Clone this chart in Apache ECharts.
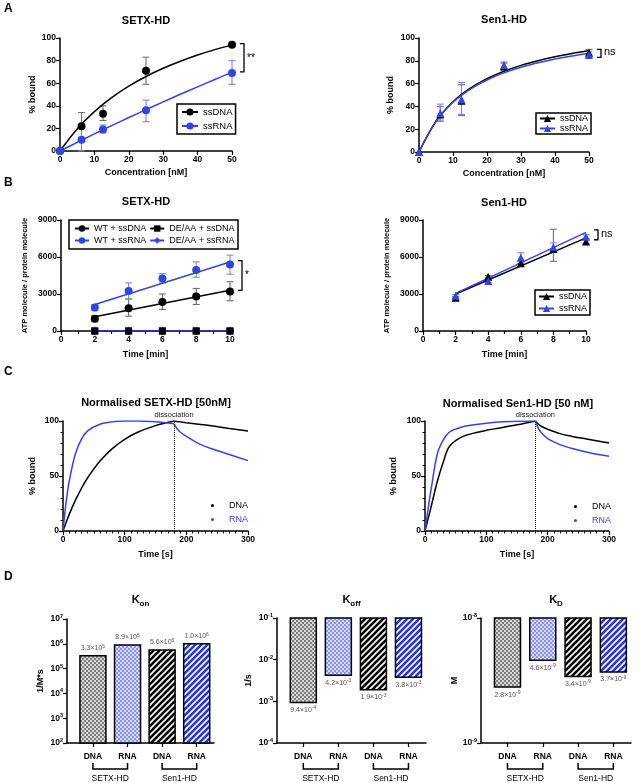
<!DOCTYPE html>
<html>
<head>
<meta charset="utf-8">
<script src="https://cdn.jsdelivr.net/npm/echarts@6/dist/echarts.min.js"></script>
<style>
html, body { margin: 0; padding: 0; background: #fff; }
#main { width: 643px; height: 783px; }
</style>
</head>
<body>
<div id="main"></div>
<script>
// ---- A: % bound vs concentration ----
var concA = [0, 6.25, 12.5, 25, 50];
var setxDnaA = [0, 22, 33, 71, 94];
var setxRnaA = [0, 10, 19, 36, 69];
var setxDnaAErr = [null, [10, 34], [27, 40], [59, 83], [93, 95]];
var setxRnaAErr = [null, [0, 20], [16, 23], [26, 45], [59, 80]];
var sen1DnaA = [0, 33, 45, 75, 87];
var sen1RnaA = [0, 34, 46, 76, 85];
var sen1DnaAErr = [null, [27, 40], [32, 59], [72, 78], [85, 90]];
var sen1RnaAErr = [null, [28, 42], [33, 61], [73, 79], [83, 88]];
// fitted curves
var fitConcA = [0, 5, 10, 15, 20, 25, 30, 35, 40, 45, 50];
var setxDnaFitA = [0, 19.5, 34.8, 47.2, 57.4, 65.9, 73.2, 79.4, 84.9, 89.7, 93.9];
var setxRnaFitA = [0, 7.6, 15.1, 22.4, 29.6, 36.6, 43.5, 50.2, 56.8, 63.3, 69.6];
var sen1DnaFitA = [0, 27.0, 44.1, 55.8, 64.3, 70.8, 76.0, 80.1, 83.5, 86.4, 89.0];
var sen1RnaFitA = [0, 26.8, 43.6, 55.0, 63.2, 69.4, 74.3, 78.2, 81.5, 84.3, 86.7];
var sigA1 = [95, 70];
var sigA2 = [90, 83];

// ---- B: ATP hydrolysis ----
var timeB = [2, 4, 6, 8, 10];
var wtDnaB = [1000, 1850, 2350, 2800, 3200];
var wtRnaB = [1900, 3250, 4250, 4950, 5400];
var wtDnaBErr = [[750, 1250], [1200, 2600], [1750, 3000], [2150, 3450], [2450, 4000]];
var wtRnaBErr = [[1650, 2150], [2600, 3900], [3900, 4650], [4350, 5600], [4600, 6150]];
var deDnaB = [0, 0, 0, 0, 0];
var deRnaB = [0, 0, 0, 0, 0];
var fitTimeB = [2, 10];
var wtDnaFitB = [1150, 3300];
var wtRnaFitB = [2150, 5600];
var sen1DnaB = [2700, 4400, 5500, 6650, 7250];
var sen1RnaB = [2850, 4050, 5950, 6800, 7650];
var sen1DnaBErr = [[2600, 2800], [4300, 4500], [5400, 5600], [5650, 8250], [7050, 7400]];
var sen1RnaBErr = [[2750, 2950], [3950, 4150], [5450, 6350], [6450, 7150], [7500, 7800]];
var sen1DnaFitB = [3000, 7550];
var sen1RnaFitB = [3050, 8000];
var sigB1 = [5700, 3300];
var sigB2 = [8200, 7400];

// ---- C: normalised binding kinetics ----
var tOn = [0, 5, 10, 20, 30, 40, 60, 80, 100, 120, 150, 180];
var tOff = [180, 185, 190, 200, 220, 240, 270, 300];
var setxDnaOn = [0, 7.7, 14.9, 27.8, 38.8, 48.4, 63.6, 74.9, 83.3, 89.5, 95.8, 100];
var setxDnaOff = [100, 99.6, 99.2, 98.4, 97.0, 95.7, 93.2, 91.0];
var setxRnaOn = [0, 26, 45.2, 70, 83.5, 91, 97, 99.2, 99.9, 100, 99.3, 97.5];
var setxRnaOff = [97.5, 93, 90, 86, 79.5, 75, 69.5, 64];
var sen1DnaOn = [0, 11, 22, 45, 63, 77, 85.5, 89, 91.5, 93.5, 96.5, 100];
var sen1DnaOff = [100, 97, 95, 92.5, 88.5, 86, 83, 80];
var sen1RnaOn = [0, 20, 38, 70, 83, 90, 94.5, 96.5, 98, 99, 99.7, 100];
var sen1RnaOff = [100, 93, 89, 84, 78.5, 75, 71, 68];
var dissocTime = 180;

// ---- D: rate constants ----
var dCats = ['DNA', 'RNA', 'DNA', 'RNA'];
var dGroups = ['SETX-HD', 'Sen1-HD'];
var konVals = [3.3e5, 8.9e5, 5.6e5, 1.0e6];
var koffVals = [9.4e-4, 4.2e-3, 1.9e-3, 3.8e-3];
var kdVals = [2.8e-9, 4.6e-9, 3.4e-9, 3.7e-9];

var F = '"Liberation Sans", Arial, sans-serif';
var BLACK = '#000000', BLUE = '#3344e6', EBLK = '#6e6e6e', EBLU = '#7a85ea';

var chart = echarts.init(document.getElementById('main'));

// bar fill patterns
function pat(size, draw) {
	var c = document.createElement('canvas');
	c.width = c.height = size;
	draw(c.getContext('2d'), size);
	return { image: c, repeat: 'repeat' };
}
function checker(dark, light) {
	return pat(4, function(g) {
		g.fillStyle = light; g.fillRect(0, 0, 4, 4);
		g.fillStyle = dark; g.fillRect(0, 0, 2, 2); g.fillRect(2, 2, 2, 2);
	});
}
function stripes(col) {
	return pat(6, function(g, s) {
		g.fillStyle = '#fff'; g.fillRect(0, 0, s, s);
		g.strokeStyle = col; g.lineWidth = 2.6;
		g.beginPath();
		g.moveTo(0, s); g.lineTo(s, 0);
		g.moveTo(-2, 2); g.lineTo(2, -2);
		g.moveTo(s - 2, s + 2); g.lineTo(s + 2, s - 2);
		g.stroke();
	});
}
var patterns = [checker('#7c7c7c', '#dadada'), checker('#8c91ef', '#d7d9fb'), stripes('#000'), stripes('#2536e0')];

function ax(gi, opts) {
	var a = {
		gridIndex: gi, type: 'value', nameLocation: 'middle',
		nameTextStyle: { color: '#000', fontSize: 9, fontWeight: 'bold', fontFamily: F },
		axisLine: { show: true, onZero: false, lineStyle: { color: '#000', width: 1.5 } },
		axisTick: { show: true, length: 4, lineStyle: { color: '#000', width: 1.2 } },
		minorTick: { show: false },
		axisLabel: { color: '#000', fontSize: 8.5, fontWeight: 'bold', fontFamily: F, margin: 4,
			formatter: function(v) { return String(v); } },
		splitLine: { show: false },
		minorSplitLine: { show: false }
	};
	return echarts.util.merge(a, opts, true);
}
var RICH_POW = {
	b: { fontSize: 8.5, fontWeight: 'bold', color: '#000', fontFamily: F, lineHeight: 11 },
	s: { fontSize: 5.5, fontWeight: 'bold', color: '#000', fontFamily: F, verticalAlign: 'top', lineHeight: 6 }
};
function logAx(gi, min, max, name, gap) {
	return ax(gi, {
		type: 'log', logBase: 10, min: min, max: max, name: name, nameGap: gap,
		axisLabel: {
			formatter: function(v) { return '{b|10}{s|' + Math.round(Math.log10(v)) + '}'; },
			rich: RICH_POW
		}
	});
}
var dPos = dCats.map(function(c, i) { return i + 0.75; });
function dAx(gi) {
	return ax(gi, {
		min: 0, max: 4.25,
		axisTick: { customValues: dPos },
		axisLabel: { customValues: dPos, margin: 9, formatter: function(v) { return dCats[Math.round(v - 0.75)]; } }
	});
}
var minorB = { show: true, splitNumber: 2, length: 3, lineStyle: { color: '#000', width: 1.2 } };
var minorC = { show: true, splitNumber: 10, length: 2.5, lineStyle: { color: '#000', width: 1 } };
var minorCy = { show: true, splitNumber: 5, length: 2.5, lineStyle: { color: '#000', width: 1 } };

var xAxes = [
	ax(0, { min: 0, max: 50, interval: 10, name: 'Concentration [nM]', nameGap: 17 }),
	ax(1, { min: 0, max: 50, interval: 10, name: 'Concentration [nM]', nameGap: 17 }),
	ax(2, { min: 0, max: 10, interval: 2, name: 'Time [min]', nameGap: 19, minorTick: minorB }),
	ax(3, { min: 0, max: 10, interval: 2, name: 'Time [min]', nameGap: 19, minorTick: minorB }),
	ax(4, { min: 0, max: 300, interval: 100, name: 'Time [s]', nameGap: 19, minorTick: minorC }),
	ax(5, { min: 0, max: 300, interval: 100, name: 'Time [s]', nameGap: 19, minorTick: minorC }),
	dAx(6), dAx(7), dAx(8)
];
var atpName = { fontSize: 7.5 };
var yAxes = [
	ax(0, { min: 0, max: 100, interval: 20, name: '% bound', nameGap: 23 }),
	ax(1, { min: 0, max: 100, interval: 20, name: '% bound', nameGap: 24 }),
	ax(2, { min: 0, max: 9000, interval: 3000, name: 'ATP molecule / protein molecule', nameGap: 32, nameTextStyle: atpName }),
	ax(3, { min: 0, max: 9000, interval: 3000, name: 'ATP molecule / protein molecule', nameGap: 32, nameTextStyle: atpName }),
	ax(4, { min: 0, max: 100, interval: 50, name: '% bound', nameGap: 26, minorTick: minorCy }),
	ax(5, { min: 0, max: 100, interval: 50, name: '% bound', nameGap: 27, minorTick: minorCy }),
	logAx(6, 1e2, 1e7, '1/M*s', 22),
	logAx(7, 1e-4, 1e-1, '1/s', 24),
	logAx(8, 1e-9, 1e-8, 'M', 17)
];

var grids = [
	{ left: 60, top: 38, width: 172, height: 113 },
	{ left: 419, top: 38, width: 170, height: 114 },
	{ left: 61, top: 220, width: 169, height: 111 },
	{ left: 423, top: 220, width: 163, height: 111 },
	{ left: 63, top: 421, width: 185, height: 110 },
	{ left: 425, top: 421, width: 184, height: 110 },
	{ left: 67, top: 619, width: 147, height: 124 },
	{ left: 277, top: 618, width: 149, height: 125 },
	{ left: 481, top: 618, width: 150, height: 125 }
];

function pairs(xs, ys) { return xs.map(function(x, i) { return [x, ys[i]]; }); }

function errs(gi, xs, e, color) {
	var data = [];
	xs.forEach(function(x, i) { if (e[i]) data.push([x, e[i][0], e[i][1]]); });
	return {
		type: 'custom', xAxisIndex: gi, yAxisIndex: gi, z: 1, silent: true,
		encode: { x: 0, y: [1, 2] }, data: data,
		renderItem: function(params, api) {
			var lo = api.coord([api.value(0), api.value(1)]);
			var hi = api.coord([api.value(0), api.value(2)]);
			var w = 3.5, st = { stroke: color, lineWidth: 1.1 };
			return { type: 'group', children: [
				{ type: 'line', shape: { x1: lo[0], y1: lo[1], x2: hi[0], y2: hi[1] }, style: st },
				{ type: 'line', shape: { x1: hi[0] - w, y1: hi[1], x2: hi[0] + w, y2: hi[1] }, style: st },
				{ type: 'line', shape: { x1: lo[0] - w, y1: lo[1], x2: lo[0] + w, y2: lo[1] }, style: st }
			] };
		}
	};
}
function pts(gi, xs, ys, symbol, size, color) {
	return {
		type: 'scatter', xAxisIndex: gi, yAxisIndex: gi, z: 4, silent: true,
		symbol: symbol, symbolSize: size, itemStyle: { color: color, opacity: 1 },
		data: pairs(xs, ys)
	};
}
function fit(gi, name, xs, ys, color, symbol) {
	return {
		type: 'line', name: name, xAxisIndex: gi, yAxisIndex: gi, z: 3, silent: true,
		smooth: 0.35, showSymbol: false, symbol: symbol, symbolSize: 8,
		lineStyle: { color: color, width: 1.5 }, itemStyle: { color: color },
		data: pairs(xs, ys)
	};
}
function dissoc() {
	return {
		silent: true, symbol: 'none', data: [{ xAxis: dissocTime }],
		lineStyle: { type: 'dotted', color: '#000', width: 1 },
		label: { show: true, position: 'end', formatter: 'dissociation', fontSize: 7.5, color: '#222', fontFamily: F, distance: 2 }
	};
}
function barSeries(gi, vals, yMin, yMax, hang) {
	return {
		type: 'custom', xAxisIndex: gi, yAxisIndex: gi, silent: true,
		encode: { x: 0, y: 1 },
		data: vals.map(function(v, i) { return [i + 0.75, v, i]; }),
		renderItem: function(params, api) {
			var x = api.value(0), v = api.value(1), i = api.value(2);
			var p = api.coord([x, v]);
			var b = api.coord([x, hang ? yMax : yMin]);
			var e = Math.floor(Math.log10(v) + 1e-9);
			var m = (v / Math.pow(10, e)).toFixed(1);
			return { type: 'group', children: [
				{ type: 'rect', shape: { x: p[0] - 13, y: Math.min(p[1], b[1]), width: 26, height: Math.abs(b[1] - p[1]) },
					style: { fill: patterns[i], stroke: '#000', lineWidth: 1.5 } },
				{ type: 'text', x: p[0], y: hang ? p[1] + 3 : p[1] - 3,
					style: { text: '{m|' + m + '×10}{e|' + e + '}', align: 'center', verticalAlign: hang ? 'top' : 'bottom',
						rich: { m: { fontSize: 7, fill: '#555', fontFamily: F, lineHeight: 9 },
							e: { fontSize: 5, fill: '#555', fontFamily: F, verticalAlign: 'top', lineHeight: 5 } } } }
			] };
		}
	};
}

var series = [
	// A SETX
	errs(0, concA, setxDnaAErr, EBLK), errs(0, concA, setxRnaAErr, EBLU),
	fit(0, 'A1 ssDNA', fitConcA, setxDnaFitA, BLACK, 'circle'),
	fit(0, 'A1 ssRNA', fitConcA, setxRnaFitA, BLUE, 'circle'),
	pts(0, concA, setxDnaA, 'circle', 8, BLACK), pts(0, concA, setxRnaA, 'circle', 8, BLUE),
	// A Sen1
	errs(1, concA, sen1DnaAErr, EBLK), errs(1, concA, sen1RnaAErr, EBLU),
	fit(1, 'A2 ssDNA', fitConcA, sen1DnaFitA, BLACK, 'triangle'),
	fit(1, 'A2 ssRNA', fitConcA, sen1RnaFitA, BLUE, 'triangle'),
	pts(1, concA, sen1DnaA, 'triangle', 8, BLACK), pts(1, concA, sen1RnaA, 'triangle', 8, BLUE),
	// B SETX
	errs(2, timeB, wtDnaBErr, EBLK), errs(2, timeB, wtRnaBErr, EBLU),
	fit(2, 'WT + ssDNA', fitTimeB, wtDnaFitB, BLACK, 'circle'),
	fit(2, 'WT + ssRNA', fitTimeB, wtRnaFitB, BLUE, 'circle'),
	pts(2, timeB, wtDnaB, 'circle', 8, BLACK), pts(2, timeB, wtRnaB, 'circle', 8, BLUE),
	{ type: 'line', name: 'DE/AA + ssDNA', xAxisIndex: 2, yAxisIndex: 2, z: 2, silent: true, symbol: 'rect', symbolSize: 7,
		lineStyle: { color: BLACK, width: 1.5 }, itemStyle: { color: BLACK }, data: pairs(timeB, deDnaB) },
	{ type: 'line', name: 'DE/AA + ssRNA', xAxisIndex: 2, yAxisIndex: 2, z: 3, silent: true, symbol: 'diamond', symbolSize: 9,
		lineStyle: { color: BLUE, width: 1.5 }, itemStyle: { color: BLUE }, data: pairs(timeB, deRnaB) },
	pts(2, timeB, deDnaB, 'rect', 7, BLACK),
	// B Sen1
	errs(3, timeB, sen1DnaBErr, EBLK), errs(3, timeB, sen1RnaBErr, EBLU),
	fit(3, 'B2 ssDNA', fitTimeB, sen1DnaFitB, BLACK, 'triangle'),
	fit(3, 'B2 ssRNA', fitTimeB, sen1RnaFitB, BLUE, 'triangle'),
	pts(3, timeB, sen1DnaB, 'triangle', 8, BLACK), pts(3, timeB, sen1RnaB, 'triangle', 8, BLUE),
	// C
	echarts.util.merge(fit(4, 'C1 DNA', tOn, setxDnaOn, BLACK, 'circle'), { markLine: dissoc() }),
	fit(4, 'C1 DNA', tOff, setxDnaOff, BLACK, 'circle'),
	fit(4, 'C1 RNA', tOn, setxRnaOn, BLUE, 'circle'),
	fit(4, 'C1 RNA', tOff, setxRnaOff, BLUE, 'circle'),
	echarts.util.merge(fit(5, 'C2 DNA', tOn, sen1DnaOn, BLACK, 'circle'), { markLine: dissoc() }),
	fit(5, 'C2 DNA', tOff, sen1DnaOff, BLACK, 'circle'),
	fit(5, 'C2 RNA', tOn, sen1RnaOn, BLUE, 'circle'),
	fit(5, 'C2 RNA', tOff, sen1RnaOff, BLUE, 'circle'),
	// D
	barSeries(6, konVals, 1e2, 1e7, false),
	barSeries(7, koffVals, 1e-4, 1e-1, true),
	barSeries(8, kdVals, 1e-9, 1e-8, true)
];

var strip = function(n) { return n.replace(/^\S+ /, ''); };
var legText = { color: '#000', fontSize: 9, fontFamily: F };
function boxLegend(left, top, names, gap, pad, iw, fs) {
	return {
		left: left, top: top, orient: 'vertical', data: names, formatter: strip, selectedMode: false,
		itemWidth: iw, itemHeight: 9, itemGap: gap, padding: pad,
		borderColor: '#000', borderWidth: 1.5, borderRadius: 0,
		textStyle: { color: '#000', fontSize: fs, fontFamily: F }
	};
}
function rowLegend(top, names) {
	return {
		left: 74, top: top, orient: 'horizontal', data: names, selectedMode: false,
		itemWidth: 14, itemHeight: 8, itemGap: 3, padding: 0, textStyle: legText
	};
}
function dotLegend(left, top, names) {
	return {
		left: left, top: top, orient: 'vertical', formatter: strip, selectedMode: false,
		itemWidth: 3, itemHeight: 3, itemGap: 5, padding: 0, icon: 'circle',
		data: [
			{ name: names[0], textStyle: { color: '#000' } },
			{ name: names[1], textStyle: { color: BLUE } }
		],
		textStyle: { fontSize: 9, fontFamily: F, padding: [0, 0, 0, 10] }
	};
}
var legends = [
	boxLegend(177, 104, ['A1 ssDNA', 'A1 ssRNA'], 4, [3, 3, 3, 4], 16, 9.5),
	boxLegend(536, 113, ['A2 ssDNA', 'A2 ssRNA'], 1, [1, 3, 1, 3], 15, 9),
	rowLegend(224, ['WT + ssDNA', 'DE/AA + ssDNA']),
	rowLegend(236, ['WT + ssRNA', 'DE/AA + ssRNA']),
	boxLegend(535, 290, ['B2 ssDNA', 'B2 ssRNA'], 3, [2, 3, 2, 3], 15, 9),
	dotLegend(211, 501, ['C1 DNA', 'C1 RNA']),
	dotLegend(574, 502, ['C2 DNA', 'C2 RNA'])
];

chart.setOption({
	animation: false,
	grid: grids,
	xAxis: xAxes,
	yAxis: yAxes,
	legend: legends,
	series: series
});

// texts and brackets, placed from the axes
function txt(s, x, y, size, weight, align, color) {
	return { type: 'text', x: x, y: y, silent: true,
		style: { text: s, fontSize: size, fontWeight: weight || 'normal', fontFamily: F, fill: color || '#000',
			align: align || 'center', verticalAlign: 'middle' } };
}
function px(gi, x, y) { return chart.convertToPixel({ gridIndex: gi }, [x, y]); }
var g = [
	txt('A', 4, 9, 12, 'bold', 'left'), txt('B', 4, 183, 12, 'bold', 'left'),
	txt('C', 4, 372, 12, 'bold', 'left'), txt('D', 4, 577, 12, 'bold', 'left'),
	txt('SETX-HD', 146, 21, 11, 'bold'), txt('Sen1-HD', 504, 20, 11, 'bold'),
	txt('SETX-HD', 146, 202, 11, 'bold'), txt('Sen1-HD', 504, 203, 11, 'bold'),
	txt('Normalised SETX-HD [50nM]', 156, 403, 11, 'bold'),
	txt('Normalised Sen1-HD [50 nM]', 518, 404, 11, 'bold'),
	{ type: 'rect', silent: true, shape: { x: 69, y: 220, width: 169, height: 29 },
		style: { fill: null, stroke: '#000', lineWidth: 1.5 } }
];
var kTitles = [['on', 6], ['off', 7], ['D', 8]];
kTitles.forEach(function(k) {
	var gr = grids[k[1]];
	g.push({ type: 'text', x: gr.left + gr.width / 2, y: 600, silent: true,
		style: { text: '{k|K}{s|' + k[0] + '}', align: 'center', verticalAlign: 'middle',
			rich: { k: { fontSize: 11, fontWeight: 'bold', fontFamily: F, fill: '#000', lineHeight: 15 },
				s: { fontSize: 8, fontWeight: 'bold', fontFamily: F, fill: '#000', verticalAlign: 'bottom', lineHeight: 8 } } } });
});
var sig = [[0, 50, sigA1, '**'], [1, 50, sigA2, 'ns'], [2, 10, sigB1, '*'], [3, 10, sigB2, 'ns']];
sig.forEach(function(s) {
	var p1 = px(s[0], s[1], s[2][0]), p2 = px(s[0], s[1], s[2][1]);
	var bx = p1[0] + 12;
	g.push({ type: 'polyline', silent: true, shape: { points: [[bx - 4, p1[1]], [bx, p1[1]], [bx, p2[1]], [bx - 4, p2[1]]] },
		style: { stroke: '#000', lineWidth: 1.3, fill: null } });
	g.push(txt(s[3], bx + 3, (p1[1] + p2[1]) / 2 + (s[3] === 'ns' ? -1 : 0), s[3] === 'ns' ? 11 : 10, 'normal', 'left'));
});
[[6, 1e2], [7, 1e-4], [8, 1e-9]].forEach(function(d) {
	dGroups.forEach(function(name, k) {
		var a = px(d[0], dPos[2 * k], d[1]), b = px(d[0], dPos[2 * k + 1], d[1]);
		var yb = a[1];
		g.push({ type: 'polyline', silent: true, shape: { points: [[a[0], yb + 20], [a[0], yb + 26], [b[0], yb + 26], [b[0], yb + 20]] },
			style: { stroke: '#000', lineWidth: 1.5, fill: null } });
		g.push(txt(name, (a[0] + b[0]) / 2, yb + 36, 8.5, 'normal'));
	});
});
chart.setOption({ graphic: g });
</script>
</body>
</html>
